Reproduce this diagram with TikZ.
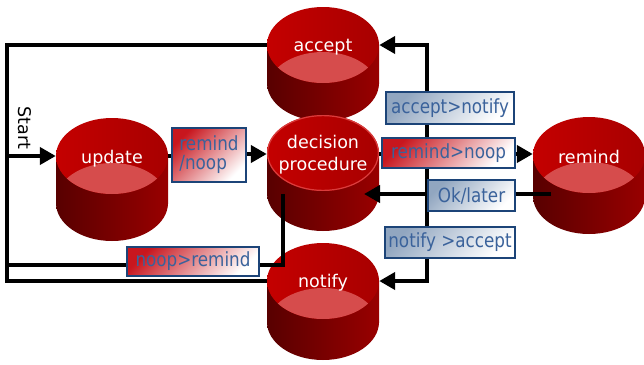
\documentclass[tikz,border=0pt]{standalone}
\usepackage{fontspec}
\setmainfont{DejaVu Sans}
\newfontfamily\lblfont[FakeStretch=0.86]{DejaVu Sans}
\usetikzlibrary{arrows.meta}
\definecolor{topL}{RGB}{196,0,0}
\definecolor{topR}{RGB}{168,0,0}
\definecolor{hlc}{RGB}{214,76,76}
\definecolor{rimc}{RGB}{218,60,60}
\definecolor{sideA}{RGB}{172,6,6}
\definecolor{sideB}{RGB}{88,0,0}
\definecolor{sideC}{RGB}{146,0,0}
\definecolor{sideD}{RGB}{182,0,0}
\definecolor{lblborder}{RGB}{28,68,120}
\definecolor{lbltext}{RGB}{58,98,155}
\definecolor{lblred}{RGB}{200,22,30}
\definecolor{lblblue}{RGB}{145,166,192}
\pgfdeclarehorizontalshading{cylside}{100bp}{color(0bp)=(sideA); color(25bp)=(sideB); color(70bp)=(sideC); color(100bp)=(sideD)}
\pgfdeclarelayer{cyllayer}
\pgfdeclarelayer{linelayer}
\pgfsetlayers{cyllayer,linelayer,main}
% #1 cx, #2 cy, #3 highlight (1) or rim (0), #4 side height
\newcommand\cylgfx[4]{%
  \shade[shading=cylside] (#1-56,#2) rectangle (#1+56,#2+#4);
  \shade[shading=cylside] (#1,#2+#4) ellipse [x radius=56pt,y radius=38pt];
  \shade[left color=topL,right color=topR] (#1,#2) ellipse [x radius=56pt,y radius=38pt];
  \ifnum#3=1
    \begin{scope}
      \clip (#1,#2) ellipse [x radius=56pt,y radius=38pt];
      \fill[hlc] (#1,#2+45) ellipse [x radius=56pt,y radius=38pt];
    \end{scope}
  \else
    \draw[rimc,line width=1.2pt] (#1,#2) ellipse [x radius=55.4pt,y radius=37.4pt];
  \fi
}
\tikzset{
  cyl/.style={minimum width=112pt,minimum height=76pt,inner sep=0pt,text=white,
    font=\fontsize{17.5}{22}\selectfont,align=center},
  lbl/.style={draw=lblborder,line width=1.3pt,text=lbltext,
    font=\lblfont\fontsize{19.5}{19}\selectfont,inner sep=0pt,align=center},
  redlbl/.style={lbl,top color=lblred,bottom color=white,shading angle=45},
  bluelbl/.style={lbl,top color=lblblue,bottom color=white,shading angle=45},
  conn/.style={line width=4.4pt,black},
  arr/.style={-{Triangle[length=16pt,width=17pt]}},
}
\begin{document}
\begin{tikzpicture}[x=1pt,y=-1pt]
\useasboundingbox (0,0) rectangle (644,364);
\begin{pgfonlayer}{cyllayer}
  \cylgfx{323}{45}{1}{38}
  \node[cyl] (accept) at (323,47) {accept};
  \cylgfx{323}{153}{0}{40}
  \node[cyl] (decision) at (323,155) {decision\\procedure};
  \cylgfx{112}{156}{1}{47}
  \node[cyl] (update) at (112,159) {update};
  \cylgfx{589}{155}{1}{41}
  \node[cyl] (remind) at (589,157) {remind};
  \cylgfx{323}{281}{1}{41}
  \node[cyl] (notify) at (323,283) {notify};
\end{pgfonlayer}

\node[font=\fontsize{17.5}{20}\selectfont,rotate=-90] (start) at (25,128) {Start};

\node[redlbl,minimum width=74pt,minimum height=54pt,align=left] (rn) at (209,155) {remind\\/noop};
\node[bluelbl,minimum width=128pt,minimum height=32pt] (an) at (450,108) {accept>notify};
\node[redlbl,minimum width=133pt,minimum height=30pt] (rm) at (448.5,153) {remind>noop};
\node[bluelbl,minimum width=87pt,minimum height=31pt] (ok) at (471.5,195.5) {Ok/later};
\node[bluelbl,minimum width=130pt,minimum height=31pt] (na) at (450,242.5) {notify >accept};
\node[redlbl,minimum width=132pt,minimum height=29pt] (nr) at (193,261.5) {noop>remind};

\coordinate (tl) at (7,45);
\coordinate (bl) at (7,281);
\coordinate (st) at (7,156);
\coordinate (jt) at (427,45);
\coordinate (jb) at (427,281);
\coordinate (jm) at (427,154);
\coordinate (dv) at (283,194);
\coordinate (dc) at (283,265);
\coordinate (lc) at (7,265);
\coordinate (rk) at (551,194);
\coordinate (dk) at (364,194);

\begin{pgfonlayer}{linelayer}
  \draw[conn] (accept.west |- tl) -- (tl) -- (bl) -- (notify.west |- bl);
  \draw[conn] (dv) -- (dc) -- (lc);
  \draw[conn,arr] (st) -- (update.west |- st);
  \draw[conn] (update.east |- st) -- (rn.west |- st);
  \draw[conn,arr] (rn.east |- jm) -- (decision.west |- jm);
  \draw[conn] (decision.east |- jm) -- (rm.west |- jm);
  \draw[conn,arr] (rm.east |- jm) -- (remind.west |- jm);
  \draw[conn,arr] (jm) -- (jt) -- (accept.east |- jt);
  \draw[conn,arr] (jm) -- (jb) -- (notify.east |- jb);
  \draw[conn,arr] (rk) -- (dk);
\end{pgfonlayer}
\end{tikzpicture}
\end{document}
